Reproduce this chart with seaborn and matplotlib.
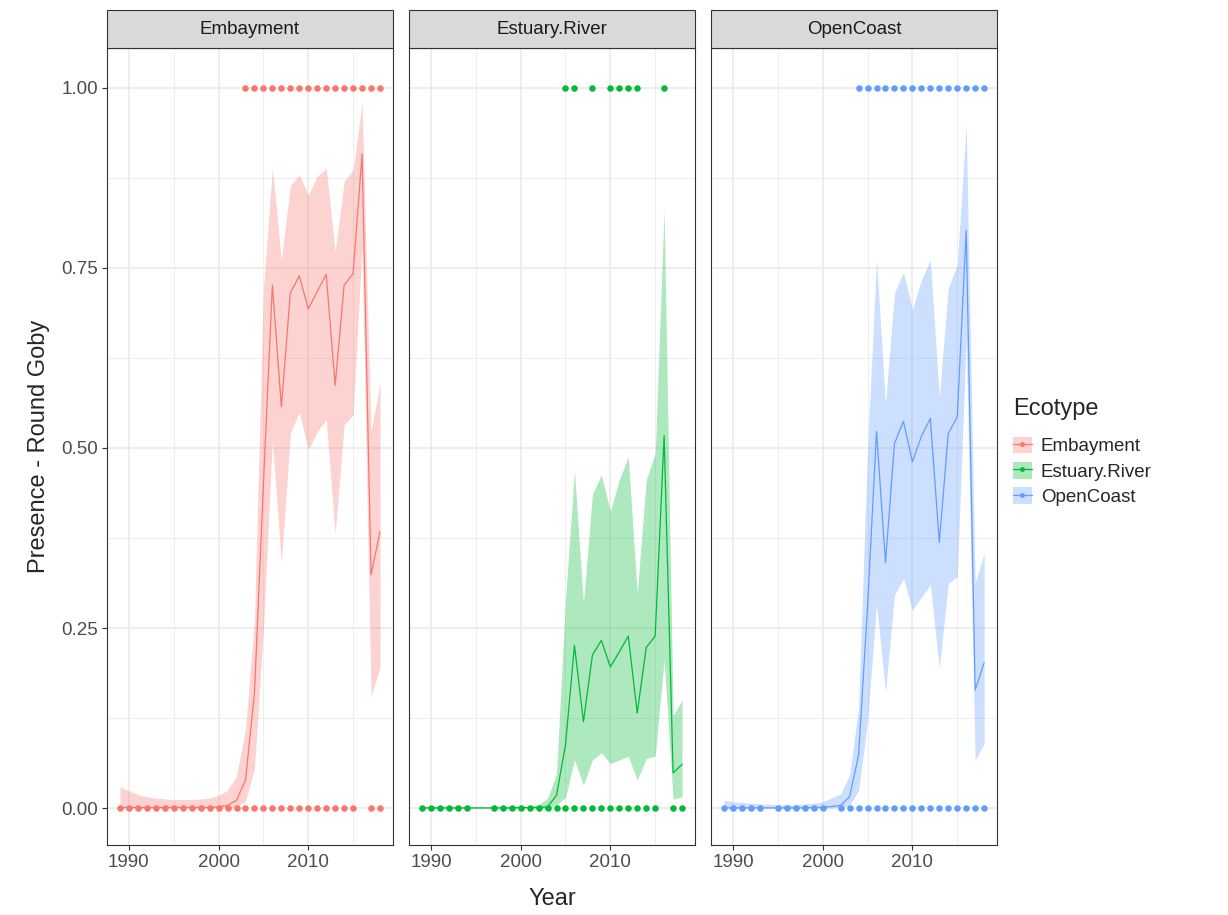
import matplotlib
matplotlib.use("Agg")
import matplotlib.pyplot as plt
from matplotlib.patches import Patch, Rectangle
from matplotlib.lines import Line2D
import pandas as pd
import seaborn as sns

sns.set_theme(style="white")
plt.rcParams['font.family'] = ['Liberation Sans', 'DejaVu Sans']

ecotypes = ['Embayment', 'Estuary.River', 'OpenCoast']
colors = ['#F8766D', '#00BA38', '#619CFF']

# fitted curve and ribbon, by ecotype
emb_years = [1989, 1990, 1991, 1992, 1993, 1994, 1995, 1996, 1997, 1998,
             1999, 2000, 2001, 2002, 2003, 2004, 2005, 2006, 2007, 2008,
             2009, 2010, 2011, 2012, 2013, 2014, 2015, 2016, 2017, 2018]
emb_fit = [0.001, 0.001, 0.001, 0.001, 0.001, 0.001, 0.001, 0.001, 0.001, 0.001,
           0.001, 0.002, 0.004, 0.011, 0.039, 0.16, 0.45, 0.726, 0.557, 0.715,
           0.739, 0.693, 0.717, 0.741, 0.587, 0.726, 0.742, 0.908, 0.324, 0.384]
emb_lo = [0, 0, 0, 0, 0, 0, 0, 0, 0, 0,
          0, 0, 0.001, 0.002, 0.01, 0.055, 0.25, 0.511, 0.34, 0.52,
          0.55, 0.497, 0.523, 0.539, 0.381, 0.532, 0.546, 0.78, 0.155, 0.196]
emb_hi = [0.030, 0.024, 0.019, 0.016, 0.014, 0.013, 0.012, 0.012, 0.012, 0.013,
          0.014, 0.018, 0.025, 0.045, 0.11, 0.26, 0.72, 0.889, 0.761, 0.864,
          0.879, 0.851, 0.877, 0.888, 0.773, 0.870, 0.886, 0.979, 0.523, 0.59]

est_years = [1989, 1990, 1991, 1992, 1993, 1994, 1997, 1998, 1999, 2000,
             2001, 2002, 2003, 2004, 2005, 2006, 2007, 2008, 2009, 2010,
             2011, 2012, 2013, 2014, 2015, 2016, 2017, 2018]
est_fit = [0.0005, 0.0005, 0.0005, 0.0005, 0.0005, 0.0005, 0.0005, 0.0005, 0.0005, 0.001,
           0.001, 0.001, 0.002, 0.018, 0.088, 0.226, 0.12, 0.2125, 0.233, 0.196,
           0.217, 0.239, 0.132, 0.223, 0.239, 0.517, 0.049, 0.061]
est_lo = [0, 0, 0, 0, 0, 0, 0, 0, 0, 0,
          0, 0, 0, 0.005, 0.015, 0.067, 0.032, 0.067, 0.077, 0.062,
          0.067, 0.072, 0.039, 0.069, 0.072, 0.206, 0.0125, 0.016]
est_hi = [0.001, 0.001, 0.001, 0.001, 0.001, 0.001, 0.001, 0.001, 0.001, 0.001,
          0.002, 0.005, 0.014, 0.048, 0.29, 0.469, 0.284, 0.436, 0.4625, 0.412,
          0.456, 0.488, 0.298, 0.456, 0.4925, 0.831, 0.129, 0.15]

oc_years = [1989, 1990, 1991, 1992, 1993, 1995, 1996, 1997, 1998, 1999,
            2000, 2002, 2003, 2004, 2005, 2006, 2007, 2008, 2009, 2010,
            2011, 2012, 2013, 2014, 2015, 2016, 2017, 2018]
oc_fit = [0.0005, 0.0005, 0.0005, 0.0005, 0.0005, 0.0005, 0.0005, 0.0005, 0.0005, 0.001,
          0.001, 0.004, 0.016, 0.074, 0.28, 0.523, 0.341, 0.506, 0.537, 0.481,
          0.516, 0.541, 0.369, 0.520, 0.543, 0.802, 0.164, 0.202]
oc_lo = [0, 0, 0, 0, 0, 0, 0, 0, 0, 0,
         0, 0.001, 0.004, 0.025, 0.12, 0.284, 0.162, 0.296, 0.319, 0.275,
         0.293, 0.31, 0.194, 0.312, 0.321, 0.65, 0.067, 0.09]
oc_hi = [0.011, 0.009, 0.008, 0.007, 0.006, 0.005, 0.005, 0.005, 0.006, 0.007,
         0.009, 0.02, 0.046, 0.14, 0.5, 0.761, 0.562, 0.715, 0.744, 0.692,
         0.733, 0.761, 0.571, 0.722, 0.754, 0.949, 0.312, 0.354]

# observed presence (1) / absence (0) years
emb_absent = [1989, 1990, 1991, 1992, 1993, 1994, 1995, 1996, 1997, 1998,
              1999, 2000, 2001, 2002, 2003, 2004, 2005, 2006, 2007, 2008,
              2009, 2010, 2011, 2012, 2013, 2014, 2015, 2017, 2018]
emb_present = [2003, 2004, 2005, 2006, 2007, 2008, 2009, 2010, 2011, 2012,
               2013, 2014, 2015, 2016, 2017, 2018]
est_absent = [1989, 1990, 1991, 1992, 1993, 1994, 1997, 1998, 1999, 2000,
              2001, 2002, 2003, 2004, 2005, 2006, 2007, 2008, 2009, 2010,
              2011, 2012, 2013, 2014, 2015, 2017, 2018]
est_present = [2005, 2006, 2008, 2010, 2011, 2012, 2013, 2016]
oc_absent = [1989, 1990, 1991, 1992, 1993, 1995, 1996, 1997, 1998, 1999,
             2000, 2002, 2003, 2004, 2005, 2006, 2007, 2008, 2009, 2010,
             2011, 2012, 2013, 2014, 2015, 2016, 2017, 2018]
oc_present = [2004, 2005, 2006, 2007, 2008, 2009, 2010, 2011, 2012, 2013,
              2014, 2015, 2016, 2017, 2018]

fits = {'Embayment': (emb_years, emb_fit, emb_lo, emb_hi),
        'Estuary.River': (est_years, est_fit, est_lo, est_hi),
        'OpenCoast': (oc_years, oc_fit, oc_lo, oc_hi)}
obs = {'Embayment': (emb_absent, emb_present),
       'Estuary.River': (est_absent, est_present),
       'OpenCoast': (oc_absent, oc_present)}

fit_df = pd.concat([pd.DataFrame({'Ecotype': k, 'Year': v[0], 'fit': v[1], 'lo': v[2], 'hi': v[3]})
                    for k, v in fits.items()])
obs_df = pd.concat([pd.concat([pd.DataFrame({'Ecotype': k, 'Year': v[0], 'Presence': 0}),
                               pd.DataFrame({'Ecotype': k, 'Year': v[1], 'Presence': 1})])
                    for k, v in obs.items()])

fig, axes = plt.subplots(1, 3, figsize=(12.28, 9.15), dpi=100, sharey=True)
fig.subplots_adjust(left=0.0871, right=0.812, top=0.9475, bottom=0.0765, wspace=0.056)

for ax, eco, col in zip(axes, ecotypes, colors):
    d = fit_df[fit_df['Ecotype'] == eco]
    o = obs_df[obs_df['Ecotype'] == eco]
    ax.fill_between(d['Year'], d['lo'], d['hi'], color=col, alpha=0.32, linewidth=0, zorder=2)
    sns.lineplot(data=d, x='Year', y='fit', color=col, linewidth=0.9, ax=ax, zorder=3)
    sns.scatterplot(data=o, x='Year', y='Presence', color=col, s=22, linewidth=0, ax=ax, zorder=4)

    ax.set_xlim(1987.55, 2019.45)
    ax.set_ylim(-0.051, 1.055)
    ax.set_xticks([1990, 2000, 2010])
    ax.set_xticks([1995, 2005, 2015], minor=True)
    ax.set_yticks([0, 0.25, 0.5, 0.75, 1.0])
    ax.set_yticks([0.125, 0.375, 0.625, 0.875], minor=True)
    ax.set_yticklabels(['0.00', '0.25', '0.50', '0.75', '1.00'])
    ax.grid(which='major', color='#EBEBEB', linewidth=1.2, zorder=0)
    ax.grid(which='minor', color='#EBEBEB', linewidth=0.6, zorder=0)
    ax.set_axisbelow(True)
    for s in ax.spines.values():
        s.set_color('#333333')
        s.set_linewidth(0.8)
    ax.tick_params(axis='both', which='major', length=3.5, width=0.8, color='#333333',
                   labelsize=13.5, labelcolor='#4D4D4D', bottom=True, left=True, pad=3)
    ax.tick_params(axis='both', which='minor', length=0)
    ax.set_xlabel('')
    ax.set_ylabel('')

    # facet strip
    strip_h = 38 / 797
    ax.add_patch(Rectangle((0, 1), 1, strip_h, transform=ax.transAxes, facecolor='#D9D9D9',
                           edgecolor='#333333', linewidth=0.8, clip_on=False, zorder=5))
    ax.text(0.5, 1 + strip_h / 2, eco, transform=ax.transAxes, ha='center', va='center',
            fontsize=13.5, color='#1A1A1A', zorder=6)

for ax in axes[1:]:
    ax.tick_params(axis='y', left=False, labelleft=False)

axes[0].set_ylabel('Presence - Round Goby', fontsize=17, labelpad=8)
fig.text((107 + 997) / 2 / 1228, 0.006, 'Year', ha='center', va='bottom', fontsize=17)

handles = [(Patch(facecolor=c, alpha=0.32, edgecolor='none'),
            Line2D([], [], color=c, linewidth=0.9, marker='o', markersize=3.5, markeredgewidth=0))
           for c in colors]
leg = fig.legend(handles, ecotypes, title='Ecotype', loc='center left',
                 bbox_to_anchor=(996 / 1228, 0.506), frameon=False, fontsize=13.5,
                 title_fontsize=17, handlelength=1.0, handleheight=1.0, labelspacing=0.35,
                 handletextpad=0.5)
leg._legend_box.align = 'left'
leg._legend_box.sep = 12

fig.savefig('out.png', dpi=100)
